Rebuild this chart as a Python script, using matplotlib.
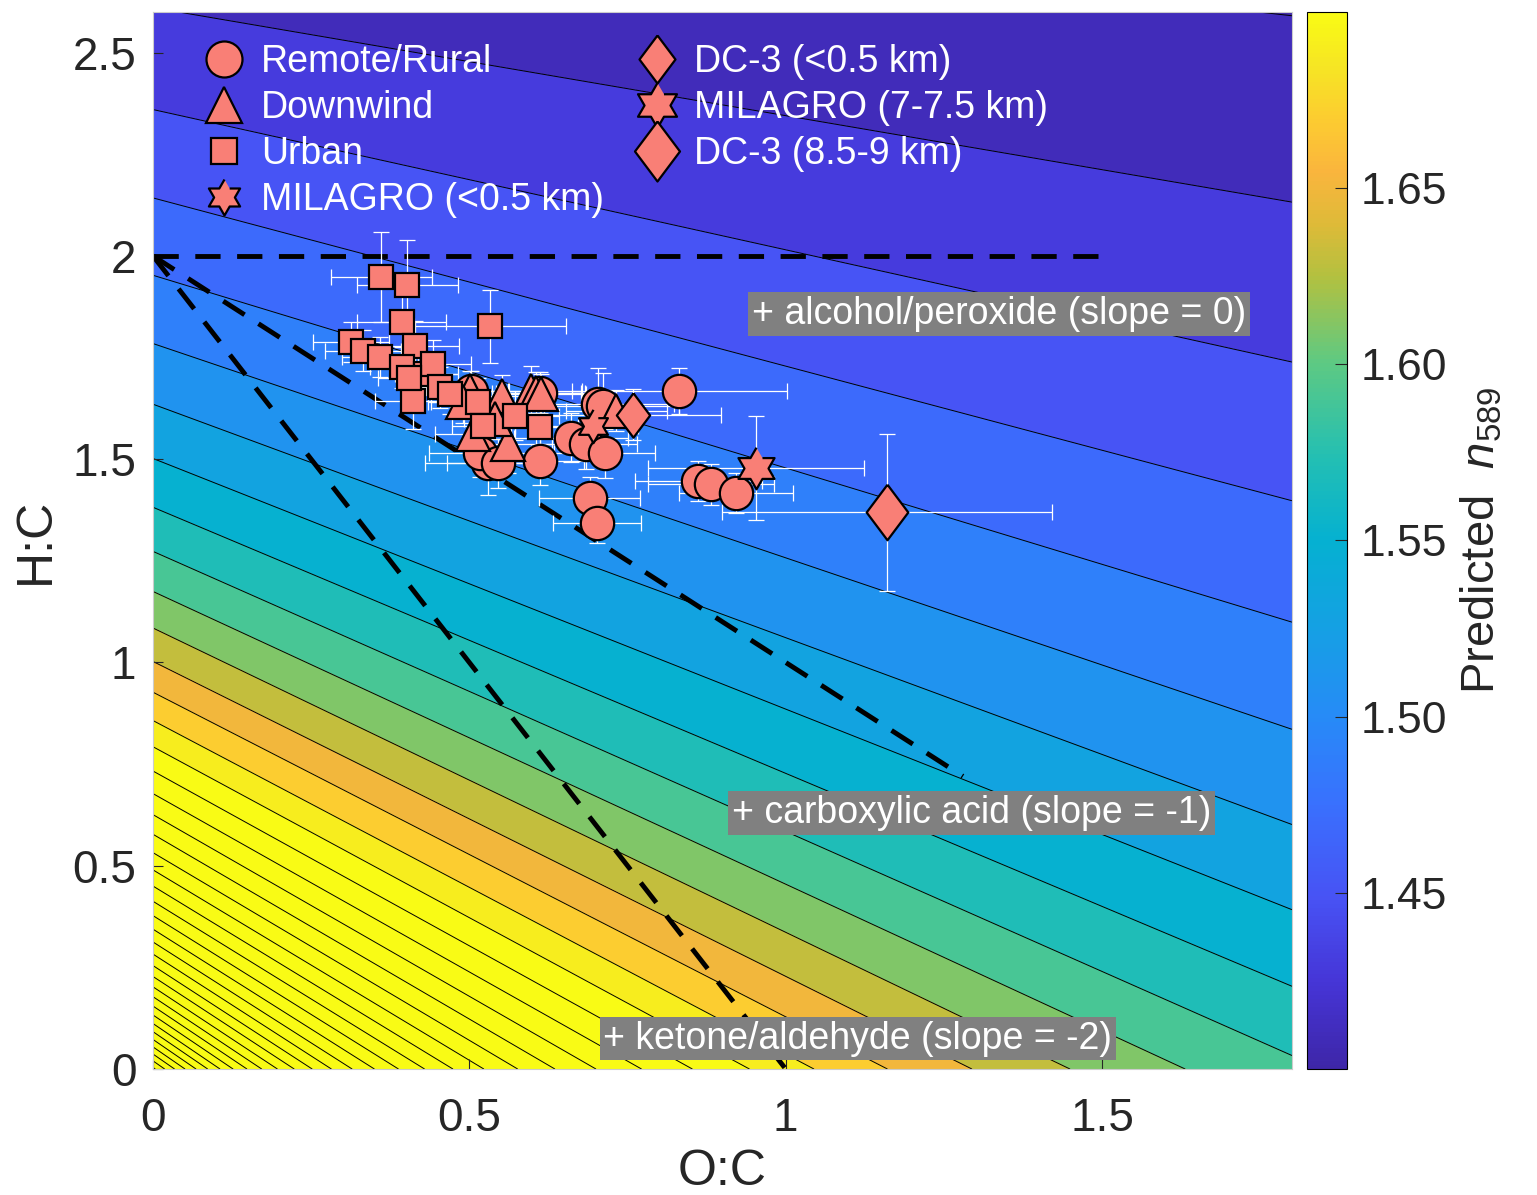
import numpy as np
import matplotlib
matplotlib.use('Agg')
import matplotlib.pyplot as plt
from matplotlib.colors import LinearSegmentedColormap, Normalize
from matplotlib.cm import ScalarMappable
from matplotlib.path import Path

plt.rcParams['font.family'] = ['Liberation Sans', 'DejaVu Sans']
plt.rcParams['mathtext.fontset'] = 'custom'
plt.rcParams['mathtext.rm'] = 'Liberation Sans'
plt.rcParams['mathtext.it'] = 'Liberation Sans:italic'

# ---- measurements (O:C, H:C, errors) ----
remote_oc = [0.503, 0.530, 0.517, 0.545, 0.611, 0.661, 0.685, 0.690, 0.702,
             0.703, 0.711, 0.714, 0.832, 0.862, 0.882, 0.922, 0.612]
remote_hc = [1.668, 1.491, 1.516, 1.490, 1.496, 1.553, 1.537, 1.405, 1.343,
             1.635, 1.631, 1.514, 1.667, 1.446, 1.438, 1.417, 1.664]
remote_oc_err = [0.06, 0.10, 0.08, 0.08, 0.07, 0.09, 0.08, 0.08, 0.07,
                 0.12, 0.12, 0.08, 0.17, 0.10, 0.10, 0.09, 0.07]
remote_hc_err = [0.05, 0.08, 0.06, 0.06, 0.06, 0.06, 0.06, 0.05, 0.05,
                 0.09, 0.08, 0.06, 0.057, 0.05, 0.05, 0.05, 0.05]

downwind_oc = [0.501, 0.551, 0.598, 0.606, 0.614, 0.506, 0.561, 0.490, 0.732, 0.541]
downwind_hc = [1.668, 1.656, 1.668, 1.664, 1.660, 1.561, 1.537, 1.640, 1.619, 1.600]
downwind_oc_err = [0.06, 0.05, 0.08, 0.07, 0.07, 0.06, 0.07, 0.05, 0.08, 0.05]
downwind_hc_err = [0.05, 0.05, 0.06, 0.05, 0.05, 0.06, 0.07, 0.05, 0.05, 0.05]

urban_oc = [0.361, 0.402, 0.393, 0.532, 0.313, 0.332, 0.359, 0.414, 0.393, 0.411,
            0.432, 0.442, 0.453, 0.514, 0.522, 0.572, 0.611, 0.405, 0.470]
urban_hc = [1.948, 1.928, 1.837, 1.827, 1.788, 1.767, 1.751, 1.779, 1.726, 1.644,
            1.709, 1.734, 1.677, 1.640, 1.582, 1.607, 1.578, 1.700, 1.660]
urban_oc_err = [0.08, 0.08, 0.07, 0.12, 0.06, 0.06, 0.06, 0.07, 0.05, 0.06,
                0.05, 0.06, 0.05, 0.08, 0.05, 0.07, 0.06, 0.05, 0.05]
urban_hc_err = [0.11, 0.11, 0.08, 0.09, 0.05, 0.05, 0.05, 0.06, 0.05, 0.07,
                0.05, 0.06, 0.05, 0.06, 0.05, 0.06, 0.05, 0.05, 0.05]

milagro_low_oc, milagro_low_hc = [0.696], [1.582]
milagro_low_err = ([0.07], [0.06])
dc3_low_oc, dc3_low_hc = [0.758], [1.609]
dc3_low_err = ([0.14], [0.063])
milagro_high_oc, milagro_high_hc = [0.953], [1.479]
milagro_high_err = ([0.17], [0.128])
dc3_high_oc, dc3_high_hc = [1.160], [1.370]
dc3_high_err = ([0.26], [0.193])

# ---- predicted refractive index surface (Lorentz-Lorenz, per carbon) ----
refr_coef = [3.94, 0.547, 1.844]   # molar refraction: C, H:C, O:C
vol_coef = [7.0, 5.444, 8.159]     # molar volume: C, H:C, O:C
n_levels = np.round(np.arange(1.38, 2.25, 0.02), 2)
cbar_ticks = [1.45, 1.50, 1.55, 1.60, 1.65]

parula_stops = [
    (0.00, (0.2422, 0.1504, 0.6603)),
    (0.08, (0.2730, 0.2070, 0.8400)),
    (0.16, (0.2810, 0.3228, 0.9579)),
    (0.25, (0.2250, 0.4400, 0.9950)),
    (0.33, (0.1540, 0.5400, 0.9700)),
    (0.42, (0.0800, 0.6300, 0.8900)),
    (0.50, (0.0200, 0.6930, 0.8200)),
    (0.58, (0.1400, 0.7500, 0.7000)),
    (0.67, (0.3700, 0.7900, 0.5100)),
    (0.75, (0.7000, 0.7550, 0.2500)),
    (0.80, (0.8700, 0.7300, 0.2200)),
    (0.85, (0.9800, 0.7100, 0.2400)),
    (0.90, (0.9900, 0.8000, 0.1900)),
    (0.95, (0.9650, 0.9000, 0.1400)),
    (1.00, (0.9769, 0.9839, 0.0805)),
]
parula = LinearSegmentedColormap.from_list('parula', parula_stops)

oc = np.linspace(0, 1.8, 900)
hc = np.linspace(0, 2.6, 900)
O, H = np.meshgrid(oc, hc)
R = refr_coef[0] + refr_coef[1] * H + refr_coef[2] * O
V = vol_coef[0] + vol_coef[1] * H + vol_coef[2] * O
LL = R / V
n589 = np.sqrt((1 + 2 * LL) / (1 - LL))

fig = plt.figure(figsize=(15.37, 11.95), dpi=100)
ax = fig.add_axes([0.0995, 0.1054, 0.7411, 0.8846])
norm = Normalize(vmin=1.40, vmax=1.70)
ax.contourf(O, H, n589, levels=n_levels, cmap=parula, norm=norm, zorder=0)
ax.contour(O, H, n589, levels=n_levels, colors='k', linewidths=0.7, zorder=1)

# reference slopes
ax.plot([0, 1.5], [2, 2], color='k', lw=3.5, dashes=[5.2, 3.4], zorder=2)
ax.plot([0, 1.28], [2, 0.72], color='k', lw=3.5, dashes=[5.2, 3.4], zorder=2)
ax.plot([0, 1.0], [2, 0.0], color='k', lw=3.5, dashes=[5.2, 3.4], zorder=2)

salmon = '#f97f76'
t = np.deg2rad(90 + 30 * np.arange(12))
r = np.where(np.arange(12) % 2 == 0, 1.0, 0.577)
hexagram = Path(np.column_stack([r * np.cos(t), r * np.sin(t)]))
diamond = Path([(0, 1), (0.75, 0), (0, -1), (-0.75, 0), (0, 1)])

groups = [
    (remote_oc, remote_hc, remote_oc_err, remote_hc_err, 'o', 24, 'Remote/Rural'),
    (downwind_oc, downwind_hc, downwind_oc_err, downwind_hc_err, '^', 24, 'Downwind'),
    (urban_oc, urban_hc, urban_oc_err, urban_hc_err, 's', 17, 'Urban'),
    (milagro_low_oc, milagro_low_hc, milagro_low_err[0], milagro_low_err[1], hexagram, 24, 'MILAGRO (<0.5 km)'),
    (dc3_low_oc, dc3_low_hc, dc3_low_err[0], dc3_low_err[1], diamond, 32, 'DC-3 (<0.5 km)'),
    (milagro_high_oc, milagro_high_hc, milagro_high_err[0], milagro_high_err[1], hexagram, 30, 'MILAGRO (7-7.5 km)'),
    (dc3_high_oc, dc3_high_hc, dc3_high_err[0], dc3_high_err[1], diamond, 40, 'DC-3 (8.5-9 km)'),
]
handles = []
for x, y, xe, ye, mk, ms, lab in groups:
    ax.errorbar(x, y, xerr=xe, yerr=ye, fmt='none', ecolor='white',
                elinewidth=0.9, capsize=6, capthick=0.9, zorder=3)
for x, y, xe, ye, mk, ms, lab in groups:
    h, = ax.plot(x, y, ls='none', marker=mk, ms=ms, mfc=salmon, mec='k',
                 mew=1.6, zorder=4, label=lab)
    handles.append(h)

leg = ax.legend(handles=handles, ncol=2, loc='upper left',
                bbox_to_anchor=(0.031, 0.984), frameon=False, fontsize=27,
                labelcolor='white', handlelength=1.1, handletextpad=0.45,
                columnspacing=0.85, labelspacing=0.27, borderaxespad=0,
                numpoints=1, markerscale=1.08)

box = dict(boxstyle='square,pad=0.1', fc='#808080', ec='none')
ax.text(0.946, 1.857, '+ alcohol/peroxide (slope = 0)', color='white',
        fontsize=27, ha='left', va='center', bbox=box, zorder=5)
ax.text(0.915, 0.630, '+ carboxylic acid (slope = -1)', color='white',
        fontsize=27, ha='left', va='center', bbox=box, zorder=5)
ax.text(0.712, 0.075, '+ ketone/aldehyde (slope = -2)', color='white',
        fontsize=27, ha='left', va='center', bbox=box, zorder=5)

ax.set_xlim(0, 1.8)
ax.set_ylim(0, 2.6)
ax.set_xticks([0, 0.5, 1, 1.5])
ax.set_xticklabels(['0', '0.5', '1', '1.5'])
ax.set_yticks([0, 0.5, 1, 1.5, 2, 2.5])
ax.set_yticklabels(['0', '0.5', '1', '1.5', '2', '2.5'])
ax.tick_params(direction='in', length=7, labelsize=33, colors='#262626')
ax.tick_params(axis='x', pad=20)
ax.tick_params(axis='y', pad=12)
ax.set_xlabel('O:C', fontsize=36, color='#262626', labelpad=6)
ax.set_ylabel('H:C', fontsize=36, color='#262626', labelpad=10)
for s in ax.spines.values():
    s.set_color('#cccccc')
    s.set_linewidth(0.8)

cax = fig.add_axes([0.8504, 0.1054, 0.026, 0.8846])
cb = fig.colorbar(ScalarMappable(norm=norm, cmap=parula), cax=cax)
cb.set_ticks(cbar_ticks)
cb.set_ticklabels(['%.2f' % v for v in cbar_ticks])
cb.ax.tick_params(direction='in', length=9, labelsize=32, colors='#262626', pad=10)
cb.outline.set_linewidth(0.8)
cb.set_label('Predicted  $n_{589}$', fontsize=34, color='#262626', labelpad=8)

fig.savefig('out.png', dpi=100)
